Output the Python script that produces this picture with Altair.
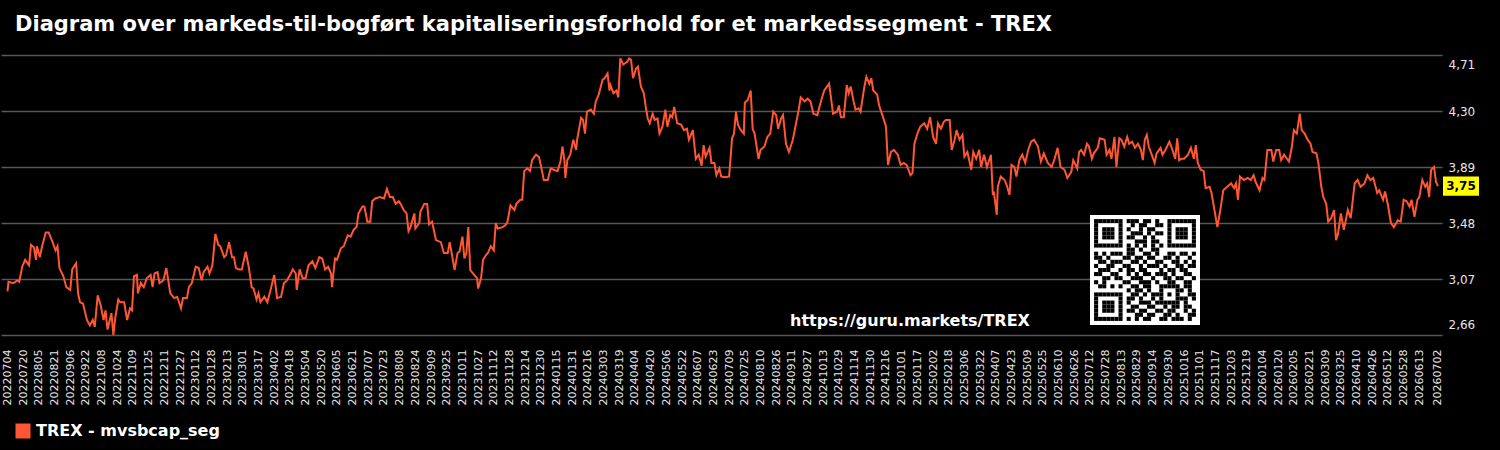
import altair as alt
import pandas as pd

TITLE = "Diagram over markeds-til-bogført kapitaliseringsforhold for et markedssegment - TREX"
SERIES = "TREX - mvsbcap_seg"
WATERMARK = "https://guru.markets/TREX"
START = "2022-07-04"
LAST_TICK = "2026-07-02"

# days since START
day_offsets = [
    0, 1, 6, 10, 12, 15, 18, 22, 24, 27, 29, 30, 33, 35, 39, 42, 46, 49, 51, 53,
    57, 60, 64, 66, 70, 72, 74, 77, 81, 84, 87, 89, 92, 95, 98, 100, 102, 106, 108, 110,
    113, 115, 119, 122, 125, 127, 129, 132, 133, 136, 139, 142, 146, 148, 150, 153, 155, 159, 162, 164,
    166, 170, 173, 177, 179, 183, 185, 188, 192, 195, 198, 200, 204, 206, 209, 212, 215, 217, 221, 223,
    226, 229, 231, 233, 236, 239, 243, 246, 249, 251, 254, 256, 258, 262, 265, 268, 272, 275, 279, 282,
    285, 289, 291, 294, 295, 298, 301, 304, 307, 311, 314, 318, 321, 324, 327, 330, 331, 334, 336, 340,
    343, 347, 350, 353, 356, 358, 362, 364, 367, 370, 372, 375, 380, 384, 387, 390, 393, 396, 399, 401,
    404, 407, 409, 411, 415, 416, 420, 421, 425, 428, 430, 433, 437, 442, 445, 449, 451, 454, 456, 459,
    461, 464, 466, 468, 470, 472, 475, 479, 480, 483, 485, 488, 490, 493, 496, 498, 500, 505, 508, 510,
    513, 517, 519, 523, 525, 527, 530, 533, 535, 539, 542, 544, 547, 551, 554, 557, 561, 564, 566, 568,
    569, 571, 574, 577, 580, 581, 585, 587, 589, 591, 595, 598, 600, 603, 607, 609, 612, 614, 615, 618,
    621, 623, 625, 628, 632, 634, 636, 638, 641, 643, 646, 649, 651, 653, 655, 658, 660, 663, 665, 668,
    671, 673, 676, 678, 680, 683, 687, 690, 693, 695, 699, 702, 705, 708, 710, 712, 716, 718, 721, 723,
    726, 728, 733, 736, 739, 741, 743, 745, 748, 751, 752, 755, 758, 760, 762, 766, 768, 772, 775, 778,
    781, 784, 786, 789, 791, 794, 797, 801, 804, 807, 809, 813, 816, 819, 822, 826, 830, 833, 838, 840,
    842, 846, 848, 850, 853, 856, 858, 860, 863, 865, 868, 870, 874, 876, 879, 881, 883, 887, 889, 893,
    896, 898, 901, 904, 908, 911, 914, 917, 921, 923, 925, 928, 931, 935, 938, 941, 944, 947, 949, 952,
    955, 957, 961, 963, 966, 968, 971, 974, 976, 979, 983, 985, 988, 991, 993, 996, 999, 1003, 1005, 1006,
    1009, 1010, 1013, 1017, 1019, 1022, 1024, 1027, 1029, 1032, 1035, 1038, 1041, 1044, 1047, 1051, 1054, 1057, 1061, 1065,
    1068, 1071, 1074, 1078, 1081, 1085, 1087, 1091, 1093, 1095, 1098, 1101, 1103, 1106, 1108, 1112, 1114, 1119, 1121, 1124,
    1126, 1129, 1131, 1134, 1136, 1139, 1142, 1144, 1147, 1150, 1153, 1156, 1158, 1160, 1162, 1164, 1167, 1170, 1172, 1176,
    1178, 1181, 1185, 1187, 1191, 1193, 1195, 1197, 1200, 1204, 1207, 1210, 1212, 1214, 1217, 1220, 1222, 1226, 1228, 1231,
    1234, 1237, 1240, 1244, 1248, 1251, 1253, 1255, 1257, 1261, 1265, 1268, 1271, 1273, 1277, 1280, 1282, 1285, 1289, 1291,
    1294, 1297, 1299, 1302, 1307, 1310, 1312, 1315, 1318, 1320, 1323, 1326, 1329, 1331, 1335, 1337, 1340, 1342, 1345, 1347,
    1350, 1353, 1355, 1357, 1360, 1363, 1367, 1370, 1374, 1377, 1380, 1384, 1387, 1390, 1393, 1397, 1399, 1403, 1405, 1408,
    1411, 1414, 1418, 1421, 1424, 1427, 1430, 1432, 1435, 1438, 1440, 1443, 1446, 1448, 1450, 1452, 1455, 1457, 1459,
]

values = [
    2.98, 3.05, 3.04, 3.06, 3.05, 3.16, 3.21, 3.17, 3.32, 3.30, 3.21, 3.31, 3.23, 3.30, 3.41, 3.41, 3.34, 3.28, 3.31, 3.15,
    3.09, 3.01, 2.99, 3.14, 3.185, 2.965, 2.90, 2.89, 2.77, 2.73, 2.77, 2.72, 2.95, 2.88, 2.77, 2.84, 2.70, 2.82, 2.66, 2.79,
    2.92, 2.90, 2.90, 2.77, 2.855, 2.84, 3.09, 3.10, 2.965, 3.04, 3.01, 3.075, 3.10, 3.01, 3.11, 3.12, 3.04, 3.06, 3.15, 3.06,
    2.965, 2.93, 2.94, 2.855, 2.93, 2.93, 3.01, 3.04, 3.16, 3.15, 3.06, 3.12, 3.16, 3.11, 3.17, 3.40, 3.32, 3.31, 3.23, 3.245,
    3.34, 3.23, 3.23, 3.15, 3.14, 3.14, 3.27, 3.16, 3.01, 3.00, 2.92, 2.965, 2.90, 2.94, 2.90, 2.98, 3.10, 2.93, 2.94, 3.04,
    3.06, 3.11, 3.14, 3.11, 2.99, 3.14, 3.075, 3.075, 3.17, 3.20, 3.15, 3.23, 3.22, 3.14, 3.16, 3.11, 3.01, 3.22, 3.21, 3.295,
    3.31, 3.39, 3.38, 3.43, 3.45, 3.55, 3.60, 3.60, 3.49, 3.49, 3.64, 3.66, 3.67, 3.66, 3.73, 3.67, 3.67, 3.62, 3.64, 3.62,
    3.575, 3.55, 3.42, 3.45, 3.55, 3.44, 3.48, 3.56, 3.62, 3.62, 3.47, 3.49, 3.355, 3.34, 3.26, 3.26, 3.34, 3.22, 3.135, 3.26,
    3.27, 3.38, 3.22, 3.26, 3.45, 3.135, 3.11, 3.075, 3.00, 3.075, 3.21, 3.245, 3.26, 3.31, 3.28, 3.48, 3.44, 3.45, 3.465, 3.49,
    3.61, 3.575, 3.62, 3.65, 3.65, 3.86, 3.88, 3.86, 3.94, 3.98, 3.965, 3.90, 3.795, 3.795, 3.88, 3.87, 3.86, 3.93, 4.04, 3.94,
    3.81, 3.94, 3.98, 4.09, 4.015, 4.09, 4.25, 4.235, 4.135, 4.295, 4.31, 4.28, 4.37, 4.42, 4.53, 4.54, 4.575, 4.45, 4.49, 4.43,
    4.45, 4.40, 4.685, 4.64, 4.66, 4.685, 4.675, 4.54, 4.61, 4.625, 4.48, 4.43, 4.33, 4.245, 4.21, 4.28, 4.235, 4.245, 4.135, 4.185,
    4.31, 4.185, 4.27, 4.255, 4.33, 4.21, 4.20, 4.16, 4.17, 4.09, 4.16, 3.95, 3.98, 3.90, 4.05, 3.965, 4.03, 3.92, 3.92, 3.83,
    3.88, 3.82, 3.815, 3.82, 4.10, 4.135, 4.295, 4.20, 4.16, 4.135, 4.36, 4.38, 4.45, 4.17, 4.135, 3.95, 4.015, 4.04, 4.11, 4.135,
    4.295, 4.27, 4.17, 4.245, 4.27, 4.06, 4.00, 4.09, 4.20, 4.31, 4.40, 4.37, 4.39, 4.37, 4.28, 4.27, 4.38, 4.45, 4.50, 4.39,
    4.28, 4.295, 4.34, 4.255, 4.255, 4.49, 4.43, 4.48, 4.37, 4.31, 4.32, 4.295, 4.48, 4.55, 4.50, 4.54, 4.45, 4.42, 4.34, 4.255,
    4.185, 3.905, 4.00, 4.015, 3.98, 3.905, 3.92, 3.905, 3.83, 3.845, 4.06, 4.135, 4.185, 4.21, 4.17, 4.255, 4.11, 4.06, 4.21, 4.17,
    4.22, 4.235, 4.235, 4.015, 4.09, 4.16, 4.09, 4.125, 3.965, 4.00, 3.87, 4.00, 3.95, 4.015, 3.89, 3.98, 3.89, 3.98, 3.685, 3.71,
    3.54, 3.745, 3.82, 3.795, 3.76, 3.685, 3.905, 3.89, 3.82, 3.94, 3.98, 3.92, 4.015, 4.075, 4.09, 4.04, 3.93, 3.99, 3.92, 3.89,
    3.95, 4.03, 3.89, 3.87, 3.81, 3.855, 3.94, 3.88, 4.00, 4.015, 3.98, 4.06, 4.04, 3.95, 3.99, 4.03, 4.10, 4.09, 3.98, 4.015,
    3.95, 4.11, 3.89, 4.10, 4.09, 4.04, 4.11, 4.06, 4.075, 4.03, 4.06, 4.015, 3.94, 4.09, 4.125, 4.04, 3.98, 3.92, 3.99, 4.03,
    3.98, 4.015, 4.075, 4.04, 3.95, 4.10, 3.94, 3.95, 3.95, 3.98, 4.03, 3.95, 4.05, 3.92, 3.87, 3.86, 3.735, 3.745, 3.70, 3.575,
    3.45, 3.575, 3.72, 3.745, 3.77, 3.735, 3.77, 3.65, 3.82, 3.795, 3.81, 3.795, 3.83, 3.78, 3.72, 3.81, 3.795, 4.015, 4.015, 3.93,
    4.015, 4.015, 3.94, 3.98, 3.93, 4.04, 4.16, 4.135, 4.28, 4.16, 4.135, 4.09, 4.06, 4.00, 3.99, 3.92, 3.745, 3.67, 3.62, 3.49,
    3.515, 3.575, 3.355, 3.40, 3.55, 3.43, 3.575, 3.515, 3.77, 3.795, 3.745, 3.77, 3.83, 3.795, 3.81, 3.70, 3.72, 3.65, 3.71, 3.61,
    3.48, 3.45, 3.50, 3.49, 3.65, 3.64, 3.60, 3.65, 3.525, 3.65, 3.67, 3.795, 3.745, 3.77, 3.67, 3.87, 3.89, 3.78, 3.75,
]

y_ticks = [2.66, 3.07, 3.48, 3.89, 4.30, 4.71]

# QR-like badge pattern (1 = dark module)
qr_rows = [
    "1111111" + "01110110100" + "1111111",
    "1000001" + "00101100110" + "1000001",
    "1011101" + "01001011000" + "1011101",
    "1011101" + "00111010110" + "1011101",
    "1011101" + "01100101000" + "1011101",
    "1000001" + "00011101100" + "1000001",
    "1111111" + "01010101010" + "1111111",
    "00000000" + "110100110" + "00000000",
    "101011101" + "10011010" + "01101101",
    "110100011" + "01101100" + "11010010",
    "011011100" + "11010011" + "00110101",
    "100110011" + "00101110" + "10011011",
    "011100101" + "10110001" + "01101100",
    "110011001" + "01011011" + "10100110",
    "001101100" + "11100100" + "11011001",
    "101000011" + "00111010" + "01100110",
    "0110101" + "001101100" + "11111" + "0110",
    "00000000" + "10110100" + "10001" + "1010",
    "1111111" + "0" + "01101011" + "10101" + "0011",
    "1000001" + "0" + "11010010" + "10001" + "1101",
    "1011101" + "0" + "10011101" + "11111" + "0100",
    "1011101" + "0" + "01100110" + "010110110",
    "1011101" + "0" + "11011001" + "101100101",
    "1000001" + "0" + "00110110" + "011010011",
    "1111111" + "0" + "10101100" + "110111010",
]

FONT = "DejaVu Sans"
LINE_COLOR = "#ff5733"

start = pd.Timestamp(START, tz="UTC")
dates = [(start + pd.Timedelta(days=d)).strftime("%Y-%m-%d") for d in day_offsets]
df = pd.DataFrame({"date": dates, "value": values, "series": SERIES})

def ms(ts):
    return int(ts.timestamp() * 1000)

tick_dates = list(pd.date_range(start, periods=91, freq="16D")) + [pd.Timestamp(LAST_TICK, tz="UTC")]
tick_ms = [ms(t) for t in tick_dates]
x_domain = [ms(start - pd.Timedelta(hours=159)), ms(pd.Timestamp(LAST_TICK, tz="UTC") + pd.Timedelta(hours=98))]

y_scale = alt.Scale(domain=[y_ticks[0], y_ticks[-1]], nice=False, zero=False)
x_scale = alt.Scale(type="utc", domain=x_domain, nice=False)

line = alt.Chart(df).mark_line(strokeWidth=2, interpolate="linear").encode(
    x=alt.X("date:T", scale=x_scale, axis=alt.Axis(
        values=tick_ms, labelExpr="utcFormat(datum.value, '%Y%m%d')", labelAngle=270,
        labelFontSize=11, labelFont=FONT, labelColor="#e6e6e6", labelPadding=14,
        labelOverlap=False, labelBound=False, labelFlush=False,
        ticks=False, domain=False, grid=False, title=None)),
    y=alt.Y("value:Q", scale=y_scale, axis=alt.Axis(
        orient="right", values=y_ticks,
        labelExpr="replace(format(datum.value, '.2f'), '.', ',')",
        labelFontSize=12, labelFont=FONT, labelColor="#e6e6e6", labelPadding=6,
        labelFlush=True, labelFlushOffset=-4, ticks=False, domain=False, grid=True,
        gridColor="#575757", gridWidth=1.5, title=None)),
    color=alt.Color("series:N", scale=alt.Scale(domain=[SERIES], range=[LINE_COLOR]),
                    legend=alt.Legend(title=None, orient="none", legendX=14, legendY=368,
                                      symbolType="square", symbolSize=225,
                                      symbolFillColor=LINE_COLOR, symbolStrokeColor=LINE_COLOR,
                                      symbolStrokeWidth=0, symbolOpacity=1,
                                      labelFont=FONT, labelFontSize=16, labelFontWeight="bold",
                                      labelColor="white", labelOffset=5, labelLimit=0, padding=0)),
)

last = pd.DataFrame({"date": [dates[-1]], "value": [values[-1]],
                     "lbl": [f"{values[-1]:.2f}".replace(".", ",")]})

box = alt.Chart(last).mark_point(
    shape="M-1,-0.53L1,-0.53L1,0.53L-1,0.53Z", filled=True, size=1296,
    color="#ffff00", opacity=1, strokeWidth=0,
).encode(x=alt.value(1460), y=alt.Y("value:Q", scale=y_scale))

box_text = alt.Chart(last).mark_text(
    font=FONT, fontSize=12, fontWeight="bold", color="black", align="center", baseline="middle",
).encode(x=alt.value(1460), y=alt.Y("value:Q", scale=y_scale), text="lbl:N")

title_text = alt.Chart(pd.DataFrame({"t": [TITLE]})).mark_text(
    font=FONT, fontSize=21, fontWeight="bold", color="white", align="left", baseline="alphabetic",
).encode(x=alt.value(14), y=alt.value(-24), text="t:N")

wm_text = alt.Chart(pd.DataFrame({"t": [WATERMARK]})).mark_text(
    font=FONT, fontSize=16, fontWeight="bold", color="white", align="center", baseline="alphabetic",
).encode(x=alt.value(909), y=alt.value(271), text="t:N")

main = alt.layer(line, box, box_text, title_text, wm_text)

qr_cells = [{"c": c, "r": r, "c2": c + 1, "r2": r + 1}
            for r, row in enumerate(qr_rows) for c, ch in enumerate(row) if ch == "1"]
qr_df = pd.DataFrame(qr_cells)
qr_bg_df = pd.DataFrame({"c": [-1], "r": [-1], "c2": [26], "r2": [26]})
qx = alt.Scale(domain=[-1, 26], range=[1089, 1199], nice=False, zero=False)
qy = alt.Scale(domain=[-1, 26], range=[160, 270], nice=False, zero=False)

qr_bg = alt.Chart(qr_bg_df).mark_rect(color="white").encode(
    x=alt.X("c:Q", scale=qx, axis=None), x2="c2:Q",
    y=alt.Y("r:Q", scale=qy, axis=None), y2="r2:Q")
qr_fg = alt.Chart(qr_df).mark_rect(color="black").encode(
    x=alt.X("c:Q", scale=qx, axis=None), x2="c2:Q",
    y=alt.Y("r:Q", scale=qy, axis=None), y2="r2:Q")
qr = alt.layer(qr_bg, qr_fg)

chart = alt.layer(main, qr).resolve_scale(x="independent", y="independent").properties(
    width=1441, height=280,
    padding={"left": 1, "top": 55, "right": 58, "bottom": 115},
    autosize=alt.AutoSizeParams(type="none"),
    background="black",
).configure_view(stroke=None)

chart.save("out.html", embed_options={"renderer": "svg", "actions": False})
